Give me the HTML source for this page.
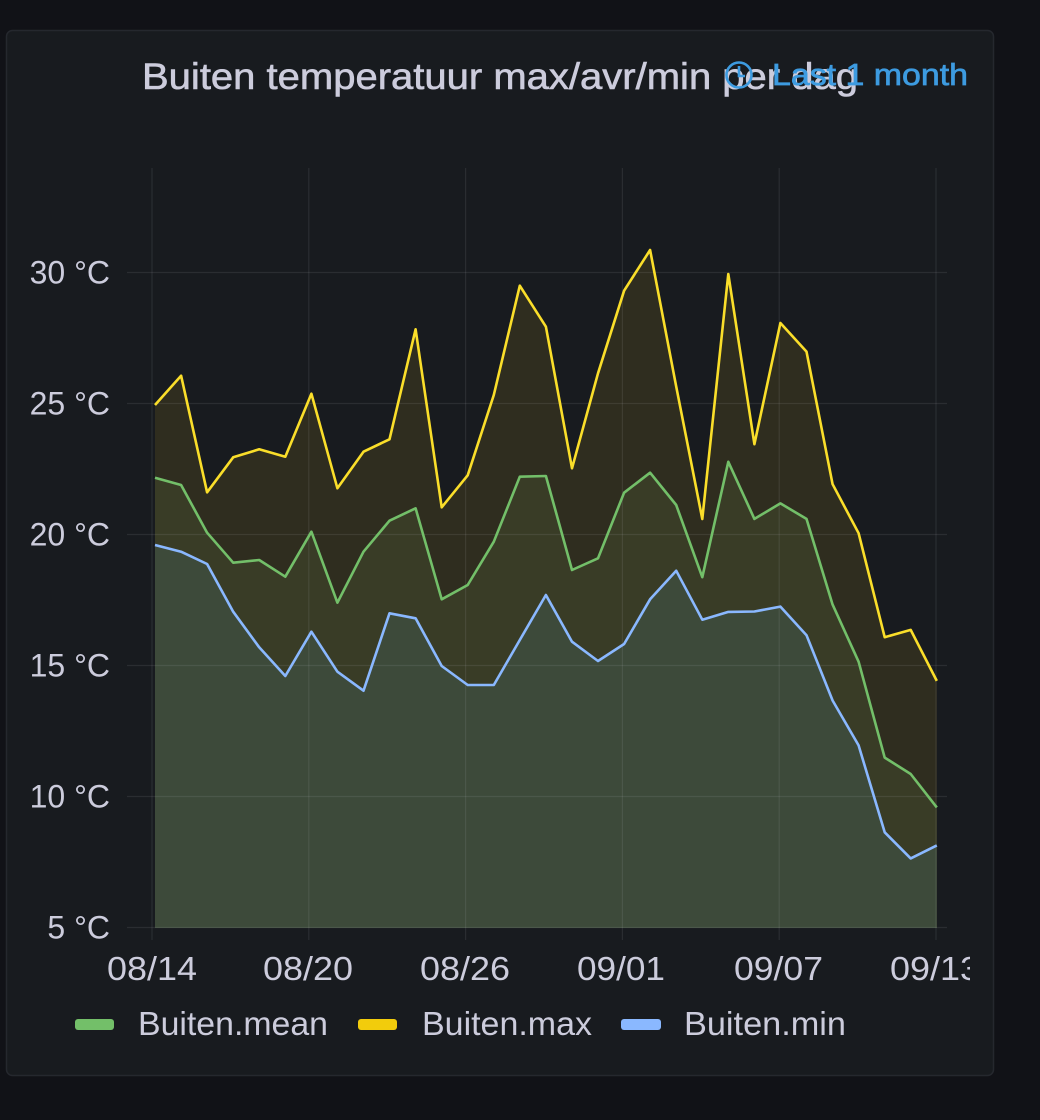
<!DOCTYPE html>
<html>
<head>
<meta charset="utf-8">
<style>
html,body{margin:0;padding:0;background:#111217;}
body{width:1040px;height:1120px;overflow:hidden;}
svg{display:block;}
text{font-family:"Liberation Sans",sans-serif;}
</style>
</head>
<body>
<svg width="1040" height="1120" viewBox="0 0 1040 1120" xmlns="http://www.w3.org/2000/svg">
  <defs>
    <clipPath id="plotclip"><rect x="0" y="0" width="970" height="1120"/></clipPath>
  </defs>
  <rect x="0" y="0" width="1040" height="1120" fill="#111217"/>
  <rect x="6.5" y="30.5" width="987" height="1045" rx="6" ry="6" fill="#181b1f" stroke="#25282e" stroke-width="1.5"/>

  <!-- title -->
  <text x="142" y="89" font-size="37" fill="#ccccdc" stroke="#ccccdc" stroke-width="0.6" textLength="716" lengthAdjust="spacingAndGlyphs">Buiten temperatuur max/avr/min per dag</text>
  <!-- time range -->
  <g stroke="#3d9be0" fill="none" stroke-width="2.6">
    <circle cx="739" cy="75" r="12.5"/>
    <path d="M739 66 V76 H745"/>
  </g>
  <text x="772" y="85" font-size="31" fill="#3d9be0" stroke="#3d9be0" stroke-width="0.7" textLength="196" lengthAdjust="spacingAndGlyphs">Last 1 month</text>

  <!-- fills -->
  <polygon fill="#2f2d1f" points="155,405 181.1,375.7 207.1,492.3 233.2,457.3 259.2,449.3 285.3,456.7 311.4,393.7 337.4,488.3 363.5,451.7 389.5,439.3 415.6,329.3 441.7,507.3 467.7,475.3 493.8,395 519.8,285.7 545.9,326.7 572,468.3 598,373.3 624.1,290.7 650.1,250 676.2,386.5 702.3,519 728.3,274 754.4,444.2 780.4,323 806.5,351.6 832.6,484.2 858.6,533.2 884.7,637.2 910.7,629.9 936.8,680.9 936.8,928 155,928"/>
  <polygon fill="#393c26" points="155,477.7 181.1,485 207.1,532.7 233.2,562.7 259.2,560 285.3,576.7 311.4,531.7 337.4,602.7 363.5,551.7 389.5,520.7 415.6,508.3 441.7,599.3 467.7,585 493.8,541.7 519.8,476.7 545.9,476 572,570 598,558.3 624.1,492.7 650.1,472.7 676.2,505 702.3,577.2 728.3,461.8 754.4,518.9 780.4,503.4 806.5,518.9 832.6,604.6 858.6,661.7 884.7,757.6 910.7,774 936.8,807.4 936.8,928 155,928"/>
  <polygon fill="#3d4a3a" points="155,545 181.1,551.7 207.1,564 233.2,611.7 259.2,647.3 285.3,676 311.4,631.7 337.4,671.7 363.5,690.7 389.5,613.3 415.6,618.3 441.7,666 467.7,685 493.8,685 519.8,640 545.9,595 572,641.7 598,661 624.1,644 650.1,599.3 676.2,570.7 702.3,619.7 728.3,611.9 754.4,611.5 780.4,606.6 806.5,635.2 832.6,700.5 858.6,745.4 884.7,832.3 910.7,858.4 936.8,845.4 936.8,928 155,928"/>

  <!-- grid -->
  <g stroke="rgba(204,204,220,0.1)" stroke-width="1.2">
    <line x1="127" y1="272.5" x2="947" y2="272.5"/>
    <line x1="127" y1="403.5" x2="947" y2="403.5"/>
    <line x1="127" y1="534.5" x2="947" y2="534.5"/>
    <line x1="127" y1="665.5" x2="947" y2="665.5"/>
    <line x1="127" y1="796.5" x2="947" y2="796.5"/>
    <line x1="127" y1="927.5" x2="947" y2="927.5"/>
    <line x1="152" y1="168" x2="152" y2="940"/>
    <line x1="308.8" y1="168" x2="308.8" y2="940"/>
    <line x1="465.6" y1="168" x2="465.6" y2="940"/>
    <line x1="622.4" y1="168" x2="622.4" y2="940"/>
    <line x1="779.2" y1="168" x2="779.2" y2="940"/>
    <line x1="936" y1="168" x2="936" y2="940"/>
  </g>

  <!-- lines -->
  <g fill="none" stroke-width="2.6" stroke-linejoin="round">
    <polyline stroke="#fade2a" points="155,405 181.1,375.7 207.1,492.3 233.2,457.3 259.2,449.3 285.3,456.7 311.4,393.7 337.4,488.3 363.5,451.7 389.5,439.3 415.6,329.3 441.7,507.3 467.7,475.3 493.8,395 519.8,285.7 545.9,326.7 572,468.3 598,373.3 624.1,290.7 650.1,250 676.2,386.5 702.3,519 728.3,274 754.4,444.2 780.4,323 806.5,351.6 832.6,484.2 858.6,533.2 884.7,637.2 910.7,629.9 936.8,680.9"/>
    <polyline stroke="#73bf69" points="155,477.7 181.1,485 207.1,532.7 233.2,562.7 259.2,560 285.3,576.7 311.4,531.7 337.4,602.7 363.5,551.7 389.5,520.7 415.6,508.3 441.7,599.3 467.7,585 493.8,541.7 519.8,476.7 545.9,476 572,570 598,558.3 624.1,492.7 650.1,472.7 676.2,505 702.3,577.2 728.3,461.8 754.4,518.9 780.4,503.4 806.5,518.9 832.6,604.6 858.6,661.7 884.7,757.6 910.7,774 936.8,807.4"/>
    <polyline stroke="#8ab8ff" points="155,545 181.1,551.7 207.1,564 233.2,611.7 259.2,647.3 285.3,676 311.4,631.7 337.4,671.7 363.5,690.7 389.5,613.3 415.6,618.3 441.7,666 467.7,685 493.8,685 519.8,640 545.9,595 572,641.7 598,661 624.1,644 650.1,599.3 676.2,570.7 702.3,619.7 728.3,611.9 754.4,611.5 780.4,606.6 806.5,635.2 832.6,700.5 858.6,745.4 884.7,832.3 910.7,858.4 936.8,845.4"/>
  </g>

  <!-- y labels -->
  <g font-size="32" fill="#ccccdc" text-anchor="end">
    <text x="110" y="283.5">30 °C</text>
    <text x="110" y="414.5">25 °C</text>
    <text x="110" y="545.5">20 °C</text>
    <text x="110" y="676.5">15 °C</text>
    <text x="110" y="807.5">10 °C</text>
    <text x="110" y="938.5">5 °C</text>
  </g>

  <!-- x labels -->
  <g font-size="33" fill="#ccccdc" clip-path="url(#plotclip)">
    <text x="107" y="980" textLength="90" lengthAdjust="spacingAndGlyphs">08/14</text>
    <text x="263" y="980" textLength="90" lengthAdjust="spacingAndGlyphs">08/20</text>
    <text x="420" y="980" textLength="90" lengthAdjust="spacingAndGlyphs">08/26</text>
    <text x="577" y="980" textLength="88" lengthAdjust="spacingAndGlyphs">09/01</text>
    <text x="734" y="980" textLength="89" lengthAdjust="spacingAndGlyphs">09/07</text>
    <text x="890" y="980" textLength="90" lengthAdjust="spacingAndGlyphs">09/13</text>
  </g>

  <!-- legend -->
  <rect x="75" y="1019" width="39" height="11" rx="3" fill="#73bf69"/>
  <text x="138" y="1035" font-size="33" fill="#ccccdc" textLength="190" lengthAdjust="spacingAndGlyphs">Buiten.mean</text>
  <rect x="358" y="1019" width="39" height="11" rx="3" fill="#f2cc0c"/>
  <text x="422" y="1035" font-size="33" fill="#ccccdc" textLength="170" lengthAdjust="spacingAndGlyphs">Buiten.max</text>
  <rect x="621" y="1019" width="40" height="11" rx="3" fill="#8ab8ff"/>
  <text x="684" y="1035" font-size="33" fill="#ccccdc" textLength="162" lengthAdjust="spacingAndGlyphs">Buiten.min</text>
</svg>
</body>
</html>
